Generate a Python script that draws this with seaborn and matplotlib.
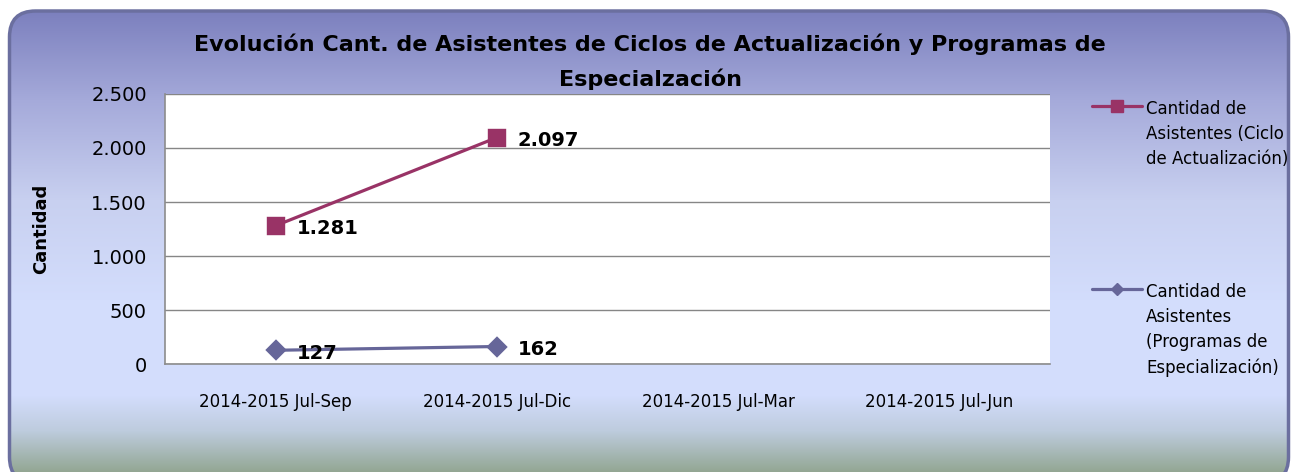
import numpy as np
import pandas as pd
import matplotlib
matplotlib.use("Agg")
import matplotlib.pyplot as plt
import seaborn as sns
from matplotlib import font_manager
from matplotlib.lines import Line2D
from matplotlib.patches import FancyBboxPatch
from matplotlib.ticker import FuncFormatter

# data
periods = ["2014-2015 Jul-Sep", "2014-2015 Jul-Dic", "2014-2015 Jul-Mar", "2014-2015 Jul-Jun"]
ciclos = [1281, 2097, np.nan, np.nan]
programas = [127, 162, np.nan, np.nan]
series_names = [
    "Cantidad de\nAsistentes (Ciclo\nde Actualización)",
    "Cantidad de\nAsistentes\n(Programas de\nEspecialización)",
]
title = "Evolución Cant. de Asistentes de Ciclos de Actualización y Programas de\nEspecialzación"
y_ticks = [0, 500, 1000, 1500, 2000, 2500]

sns.set_style("white")
installed = {f.name for f in font_manager.fontManager.ttflist}
base_font = "Liberation Sans Narrow" if "Liberation Sans Narrow" in installed else "DejaVu Sans"
plt.rcParams["font.family"] = [base_font, "DejaVu Sans"]
plt.rcParams["text.color"] = "black"
plt.rcParams["xtick.color"] = "black"
plt.rcParams["ytick.color"] = "black"
plt.rcParams["axes.labelcolor"] = "black"

W, H = 1291, 472
fig = plt.figure(figsize=(W / 100, H / 100), dpi=100, facecolor="white")

# rounded gradient panel behind everything (pixel coords, y measured from the bottom)
bg = fig.add_axes([0, 0, 1, 1], zorder=-1)
bg.set_xlim(0, W)
bg.set_ylim(0, H)
bg.axis("off")
stops_y = [11, 100, 200, 300, 395, 430, 472]
stops_c = np.array([(124, 128, 190), (165, 170, 218), (200, 208, 240), (211, 221, 252),
                    (211, 221, 252), (190, 204, 222), (146, 166, 146)]) / 255
rows = np.arange(H)
grad = np.stack([np.interp(rows, stops_y, stops_c[:, k]) for k in range(3)], axis=-1)[:, None, :]
panel = FancyBboxPatch((9.5, -11), 1279, H - 11 + 11, boxstyle="round,pad=0,rounding_size=26",
                       fc="none", ec="#6b6f9f", lw=2.5, zorder=3)
bg.add_patch(panel)
im = bg.imshow(grad, extent=(0, W, 0, H), origin="upper", aspect="auto", zorder=1)
im.set_clip_path(panel)

ax = fig.add_axes([165 / W, (H - 364) / H, 885 / W, 270 / H])
ax.set_facecolor("white")

c1, c2 = "#993366", "#666699"
sns.pointplot(x=periods, y=ciclos, order=periods, color=c1, marker="s", markersize=11,
              linewidth=2.3, errorbar=None, ax=ax)
sns.pointplot(x=periods, y=programas, order=periods, color=c2, marker="D", markersize=9,
              linewidth=2.3, errorbar=None, ax=ax)

for vals in (ciclos, programas):
    for i, v in enumerate(vals):
        if not np.isnan(v):
            ax.annotate(f"{int(v):,}".replace(",", "."), (i, v), xytext=(15, -2),
                        textcoords="offset points", ha="left", va="center",
                        fontsize=14, fontweight="bold")

ax.set_xlim(-0.5, 3.5)
ax.set_ylim(0, 2500)
ax.set_yticks(y_ticks)
ax.yaxis.set_major_formatter(FuncFormatter(lambda v, p: f"{int(v):,}".replace(",", ".")))
ax.grid(axis="y", color="#868686", lw=1)
ax.grid(axis="x", visible=False)
for s in ("top", "right"):
    ax.spines[s].set_visible(False)
for s in ("left", "bottom"):
    ax.spines[s].set_color("#8c8c8c")
    ax.spines[s].set_linewidth(1.2)
ax.tick_params(axis="y", length=0, pad=13, labelsize=14)
ax.tick_params(axis="x", length=0, pad=21, labelsize=12)
ax.set_xlabel("")
ax.set_ylabel("Cantidad", fontsize=13, fontweight="bold")
ax.yaxis.set_label_coords((50 - 165) / 885, 0.5)

fig.text(650 / W, 1 - 62 / H, title, ha="center", va="center", fontsize=16,
         fontweight="bold", linespacing=1.75)

handles = [Line2D([], [], color=c1, lw=2.3, marker="s", markersize=8),
           Line2D([], [], color=c2, lw=2.3, marker="D", markersize=6)]
leg = fig.legend(handles, series_names, loc="upper left", bbox_to_anchor=(1092 / W, 1 - 100 / H),
                 frameon=False, fontsize=12, handlelength=3.0, handletextpad=0.25,
                 labelspacing=6.9, borderpad=0, borderaxespad=0)
for t in leg.get_texts():
    t.set_linespacing(1.5)
for col in leg._legend_handle_box.get_children():
    for row in col.get_children():
        row.align = "top"

fig.savefig("out.png", dpi=100)
plt.close()
